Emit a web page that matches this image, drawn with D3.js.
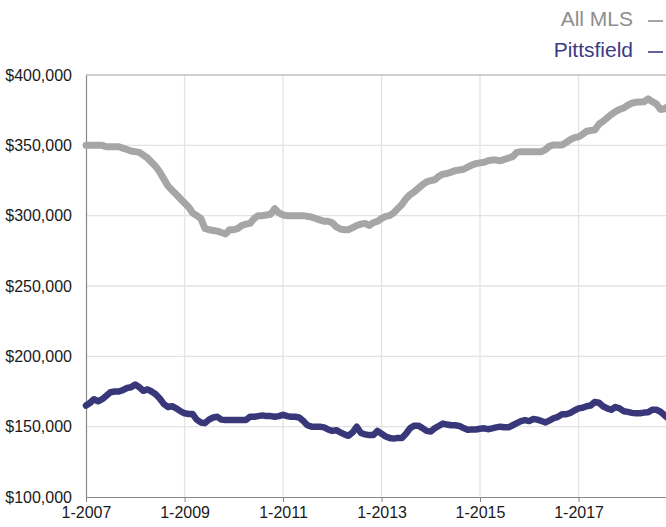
<!DOCTYPE html>
<html>
<head>
<meta charset="utf-8">
<script src="https://cdn.jsdelivr.net/npm/d3@7"></script>
<style>
  body { margin: 0; background: #fff; }
  svg { display: block; font-family: "Liberation Sans", Arial, Helvetica, sans-serif; }
</style>
</head>
<body>
<div id="chart"></div>
<script>
// monthly median price, starting 1-2007 (values in $1,000)
var startMonth = new Date(2007, 0, 1);

var allMls = [
    350, 350, 350, 350, 350, 349, 349, 349, 349, 348, 347, 346,          // 2007
    345.5, 345, 343, 341, 338, 335, 331, 326, 321, 318, 315, 312,        // 2008
    309, 306, 302, 300, 298, 291, 290, 289.5, 289, 288, 287, 290,        // 2009
    290, 291, 293, 294, 294.5, 298, 300, 300, 300.5, 301, 305, 302,      // 2010
    300.5, 300, 300, 300, 300, 300, 299.5, 299, 298, 297, 296, 296,      // 2011
    295, 292, 290.5, 290, 290, 291.5, 293, 294, 294.5, 293, 295, 296,    // 2012
    298, 299.5, 300, 302, 305, 308, 312, 315, 317, 319.5, 322, 324,      // 2013
    325, 325.5, 328, 329.5, 330, 331, 332, 332.5, 333, 334.5, 336, 337,  // 2014
    337.5, 338, 339, 339.5, 339.5, 339, 340, 341, 342, 345, 345.5, 345.5,// 2015
    345.5, 345.5, 345.5, 345.5, 347, 349.5, 350.3, 350.3, 350.3, 352, 354, 355.5, // 2016
    356, 358, 360, 360.5, 361, 365, 367, 369.5, 372, 374, 375.5, 376.5,  // 2017
    378.5, 380, 380.6, 380.8, 381, 383, 381, 379.5, 375.5, 376, 378      // 2018
];

var pittsfield = [
    165, 167, 169.5, 168, 169.5, 172, 174.5, 175, 175, 176, 177.5, 178,  // 2007
    180, 178, 175.5, 176.5, 175, 173, 170, 166, 164, 164.5, 163, 161,    // 2008
    159.5, 159, 159, 155, 153, 152.5, 155, 156.5, 157, 155, 154.7, 154.7,// 2009
    154.7, 154.7, 154.7, 154.7, 157, 157, 157.5, 158, 157.5, 157.5, 157, 157.5, // 2010
    158.5, 157.5, 157, 157, 156.5, 154, 151, 150, 150, 150, 149.5, 148,  // 2011
    147, 147.5, 146, 144.5, 143.5, 146, 150, 145.5, 144.5, 144, 144, 147,// 2012
    145, 143, 142, 141.5, 142, 142, 145, 149, 150.7, 150.7, 149, 147,    // 2013
    146.5, 149, 150.5, 152.2, 151.5, 151, 151, 150.5, 149, 147.8, 148, 148, // 2014
    148.5, 148.8, 148.2, 148.8, 149.5, 150, 149.6, 149.5, 151, 152.5, 154, 154.7, // 2015
    154, 155.5, 155, 154, 153, 154.5, 156, 157, 158.8, 158.8, 159.8, 161.5, // 2016
    163, 163.5, 164.5, 165, 167.5, 167, 164.5, 163, 162, 164, 163, 161,  // 2017
    160.5, 159.8, 159.5, 159.5, 160, 160.2, 162, 162, 160.6, 158, 155.5  // 2018
];

var seriesNames = ['All MLS', 'Pittsfield'];
var seriesColors = ['#a6a6a6', '#37377a'];
var legendColors = ['#8e8e8e', '#3b3b83'];

var yTicks = [100000, 150000, 200000, 250000, 300000, 350000, 400000];
var xTickYears = [2007, 2009, 2011, 2013, 2015, 2017];

(function () {
    var width = 666, height = 527;
    var plotLeft = 86, plotTop = 75, plotBottom = 497, plotRight = 677;

    var svg = d3.select('#chart').append('svg')
        .attr('width', width).attr('height', height);

    var x = d3.scaleTime()
        .domain([startMonth, new Date(2019, 0, 1)])
        .range([plotLeft, plotRight]);

    var y = d3.scaleLinear()
        .domain([100000, 400000])
        .range([plotBottom, plotTop]);

    // gridlines
    svg.append('g').selectAll('line')
        .data(yTicks.slice(1, -1))
        .enter().append('line')
        .attr('x1', plotLeft).attr('x2', width)
        .attr('y1', function (d) { return y(d); })
        .attr('y2', function (d) { return y(d); })
        .attr('stroke', '#e3e3e3').attr('stroke-width', 1.3);

    svg.append('g').selectAll('line')
        .data(xTickYears.slice(1))
        .enter().append('line')
        .attr('x1', function (d) { return x(new Date(d, 0, 1)); })
        .attr('x2', function (d) { return x(new Date(d, 0, 1)); })
        .attr('y1', plotTop).attr('y2', plotBottom)
        .attr('stroke', '#e3e3e3').attr('stroke-width', 1.3);

    // top border
    svg.append('line')
        .attr('x1', plotLeft).attr('x2', width)
        .attr('y1', plotTop).attr('y2', plotTop)
        .attr('stroke', '#a0a0a0').attr('stroke-width', 1.2);

    // y axis
    var yAxis = svg.append('g')
        .attr('transform', 'translate(' + plotLeft + ',0)')
        .call(d3.axisLeft(y).tickValues(yTicks).tickSize(0).tickPadding(14)
            .tickFormat(d3.format('$,')));
    yAxis.select('.domain').attr('stroke', '#888').attr('stroke-width', 1.2);
    yAxis.selectAll('text')
        .attr('font-size', 16).attr('fill', '#1a1a1a')
        .attr('font-family', '"Liberation Sans", Arial, sans-serif');

    // x axis
    var xAxis = svg.append('g')
        .attr('transform', 'translate(0,' + plotBottom + ')')
        .call(d3.axisBottom(x)
            .tickValues(xTickYears.map(function (d) { return new Date(d, 0, 1); }))
            .tickSize(5).tickSizeOuter(0).tickPadding(5)
            .tickFormat(function (d) { return '1-' + d.getFullYear(); }));
    xAxis.select('.domain').attr('stroke', '#888').attr('stroke-width', 1.2);
    xAxis.selectAll('.tick line').attr('stroke', '#888');
    xAxis.selectAll('text')
        .attr('font-size', 16).attr('fill', '#1a1a1a')
        .attr('font-family', '"Liberation Sans", Arial, sans-serif');

    // lines
    var line = d3.line()
        .x(function (d, i) { return x(d3.timeMonth.offset(startMonth, i)); })
        .y(function (d) { return y(d * 1000); });

    [allMls, pittsfield].forEach(function (values, k) {
        svg.append('path')
            .datum(values)
            .attr('d', line)
            .attr('fill', 'none')
            .attr('stroke', seriesColors[k])
            .attr('stroke-width', k === 0 ? 7 : 6.5)
            .attr('stroke-linejoin', 'round')
            .attr('stroke-linecap', 'round');
    });

    // legend
    var legend = svg.append('g').selectAll('g')
        .data(seriesNames)
        .enter().append('g')
        .attr('transform', function (d, i) { return 'translate(0,' + (26 + i * 31) + ')'; });

    legend.append('text')
        .attr('x', 633)
        .attr('text-anchor', 'end')
        .attr('font-size', 21)
        .attr('fill', function (d, i) { return legendColors[i]; })
        .text(function (d) { return d; });

    legend.append('line')
        .attr('x1', 648).attr('x2', 663)
        .attr('y1', -5).attr('y2', -5)
        .attr('stroke', function (d, i) { return legendColors[i]; })
        .attr('stroke-width', 1.6);
})();
</script>
</body>
</html>
